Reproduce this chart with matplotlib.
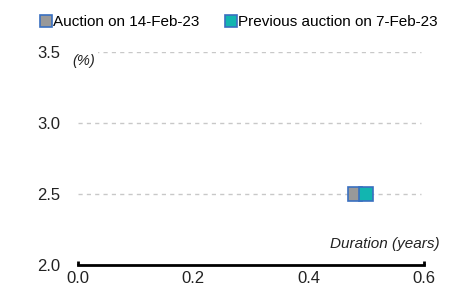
import matplotlib
matplotlib.use("Agg")
import matplotlib.pyplot as plt
from matplotlib.lines import Line2D

plt.rcParams['font.family'] = ['Liberation Sans', 'DejaVu Sans']

series = ["Auction on 14-Feb-23", "Previous auction on 7-Feb-23"]
durations = [0.48, 0.50]
yields = [2.5, 2.5]
colors = ["#999999", "#12B5B0"]
edge = "#3A6FC0"
xticks = [0.0, 0.2, 0.4, 0.6]
yticks = [2.0, 2.5, 3.0, 3.5]

fig = plt.figure(figsize=(4.54, 2.93), dpi=100)
ax = fig.add_axes([0.1718, 0.0956, 0.934 - 0.1718, 0.8225 - 0.0956])

for d, y, c in zip(durations, yields, colors):
    ax.plot([d], [y], marker='s', ms=10, mfc=c, mec=edge, mew=1.2, ls='none', zorder=3)

ax.set_xlim(0, 0.6)
ax.set_ylim(2.0, 3.5)
ax.set_xticks(xticks)
ax.set_xticklabels([f"{v:.1f}" for v in xticks])
ax.set_yticks(yticks)
ax.set_yticklabels([f"{v:.1f}" for v in yticks])
for v in yticks[1:]:
    ax.axhline(v, xmin=0.0, xmax=0.99, color="#C8C8C8", lw=1, ls=(0, (3, 3)), zorder=1)

for s in ['top', 'right', 'left']:
    ax.spines[s].set_visible(False)
ax.spines['bottom'].set_linewidth(2)
ax.spines['bottom'].set_color('black')
ax.tick_params(axis='y', length=0, labelsize=12, colors='#222222', pad=13)
ax.tick_params(axis='x', length=0, labelsize=12, colors='#222222', pad=4)
for xe in [0.0, 0.6]:
    ax.plot([xe, xe], [2.0, 2.03], color='black', lw=2, clip_on=False, solid_capstyle='butt')

ax.text(-0.015, 3.44, "(%)", transform=ax.get_yaxis_transform(), fontsize=10.5,
        style='italic', color='#222222', ha='left', va='center', zorder=2,
        bbox=dict(facecolor='white', edgecolor='none', pad=1.5))
ax.text(1.045, 0.1, "Duration (years)", transform=ax.transAxes, fontsize=11,
        style='italic', color='#222222', ha='right', va='center')

handles = [Line2D([], [], marker='s', ms=8, mfc=c, mec=edge, mew=1.2, ls='none') for c in colors]
fig.legend(handles, series, loc='upper center', bbox_to_anchor=(0.525, 0.985), ncol=2,
           frameon=False, fontsize=11, handletextpad=0.0, columnspacing=1.6,
           handlelength=0.9, borderaxespad=0.3)

fig.savefig("out.png", dpi=100)
